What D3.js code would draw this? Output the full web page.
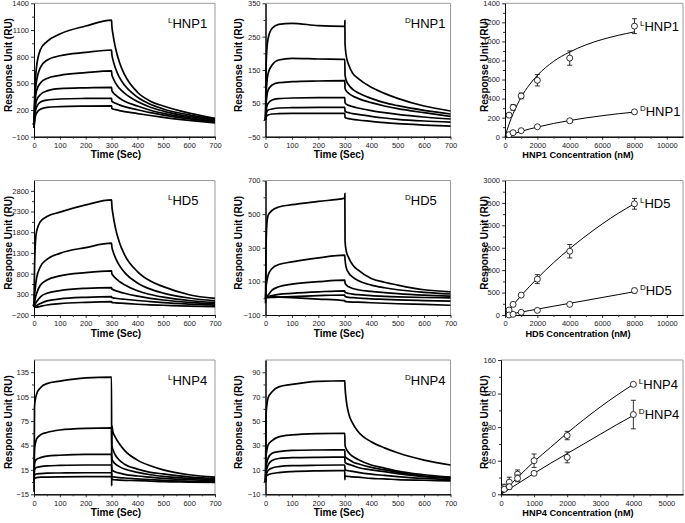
<!DOCTYPE html>
<html><head><meta charset="utf-8">
<script src="https://cdn.jsdelivr.net/npm/d3@7"></script>
<style>body{margin:0;background:#fff}svg{display:block;font-family:Arial,"Liberation Sans",sans-serif}</style>
</head><body><svg id="c" width="685" height="523"></svg>
<script>
// ---------- Sensorgram data (Response Unit vs Time) ----------
const assocT = [0, 2, 5, 10, 25, 50, 100, 200, 300];
const dissocT = [301, 305, 315, 330, 350, 400, 450, 500, 600, 700];

const lhnp1Assoc = [
  [0, 300, 520, 690, 880, 970, 1055, 1145, 1210],
  [0, 220, 400, 530, 680, 760, 810, 848, 875],
  [0, 170, 310, 420, 505, 555, 590, 620, 640],
  [0, 130, 230, 310, 375, 415, 440, 450, 455],
  [0, 100, 175, 235, 290, 312, 324, 330, 332],
  [0, 70, 125, 165, 210, 230, 238, 244, 246]
];
const lhnp1Dissoc = [
  [1150, 1060, 900, 740, 600, 400, 300, 245, 165, 105],
  [830, 770, 670, 570, 480, 345, 265, 212, 145, 95],
  [600, 565, 505, 445, 390, 295, 232, 188, 128, 85],
  [420, 400, 370, 335, 300, 245, 198, 163, 113, 75],
  [300, 290, 275, 258, 238, 203, 170, 143, 100, 65],
  [218, 212, 204, 194, 182, 160, 138, 118, 84, 55]
];
const dhnp1Assoc = [
  [0, 150, 210, 245, 275, 287, 290, 283, 281],
  [0, 70, 110, 140, 165, 180, 185, 183, 182],
  [0, 45, 70, 90, 105, 112, 115, 117, 118],
  [0, 25, 40, 50, 60, 64, 66, 67, 67],
  [0, 15, 25, 30, 33, 36, 37, 38, 38],
  [0, 8, 12, 15, 18, 19, 20, 20, 20]
];
const dhnp1Dissoc = [
  [230, 195, 165, 140, 125, 98, 80, 65, 42, 27],
  [135, 120, 105, 92, 82, 65, 52, 43, 29, 18],
  [95, 88, 80, 72, 65, 52, 42, 34, 22, 11],
  [52, 48, 44, 40, 36, 28, 22, 17, 9, 3],
  [26, 24, 22, 19, 17, 11, 6, 2, -3, -6],
  [8, 6, 4, 2, 0, -4, -8, -11, -15, -18]
];
const lhd5Assoc = [
  [0, 900, 1500, 1820, 2060, 2180, 2285, 2460, 2580],
  [0, 250, 450, 690, 970, 1145, 1290, 1430, 1535],
  [0, 100, 200, 320, 525, 645, 745, 825, 865],
  [0, 40, 70, 120, 240, 325, 390, 445, 462],
  [0, 10, 20, 30, 80, 140, 188, 228, 243],
  [0, -5, -10, -10, 10, 42, 75, 106, 122]
];
const lhd5Dissoc = [
  [2450, 2250, 1900, 1560, 1260, 850, 620, 485, 290, 200],
  [1450, 1350, 1180, 1000, 830, 575, 425, 330, 210, 140],
  [800, 760, 690, 610, 530, 385, 295, 232, 150, 100],
  [430, 415, 390, 360, 325, 255, 203, 163, 107, 70],
  [222, 215, 205, 193, 180, 150, 125, 100, 65, 40],
  [105, 100, 95, 88, 80, 60, 45, 35, 15, 0]
];
const dhd5Assoc = [
  [-30, 300, 435, 493, 522, 542, 556, 576, 595],
  [0, 60, 100, 137, 177, 200, 216, 240, 256],
  [0, 5, 10, 19, 48, 68, 84, 98, 107],
  [0, 3, 5, 9, 15, 23, 29, 38, 44],
  [0, 2, 3, 3, 5, 7, 9, 15, 19],
  [10, 10, 9, 9, 8, 6, 3, -5, -15]
];
const dhd5Dissoc = [
  [340, 285, 240, 198, 168, 117, 95, 78, 50, 38],
  [230, 185, 150, 125, 105, 78, 62, 50, 35, 25],
  [90, 80, 68, 58, 50, 40, 33, 27, 18, 12],
  [35, 32, 28, 24, 21, 15, 11, 8, 4, 2],
  [10, 8, 5, 3, 1, -4, -7, -10, -14, -18],
  [-20, -21, -22, -23, -24, -27, -30, -33, -37, -42]
];
const lhnp4Assoc = [
  [-12, 92, 101, 108, 116, 121, 124, 128, 129],
  [0, 40, 47, 53, 58, 61, 64, 66, 66.5],
  [0, 22, 26, 28, 30, 32, 33, 34, 34],
  [0, 15, 17, 18, 19, 20, 20.5, 21, 21],
  [0, 8.5, 9.5, 10, 10.5, 11, 11.2, 11.5, 11.5],
  [0, 4.5, 5, 5.5, 6, 6.2, 6.4, 6.6, 6.6]
];
const lhnp4Dissoc = [
  [70, 62, 55, 47, 39, 27, 20, 15, 9, 6],
  [45, 40, 33, 27, 22, 16, 12, 10, 6.5, 4.5],
  [28, 26, 22, 19, 16, 12, 9, 7, 4.5, 3],
  [15, 14, 12.5, 11, 9.5, 7.5, 6, 4.5, 3, 1.5],
  [7, 6.5, 6, 5.5, 5, 4, 3, 2, 1, 0.5],
  [3, 3, 2.8, 2.5, 2.2, 1.8, 1.2, 0.5, 0, -0.5]
];
const dhnp4Assoc = [
  [0, 54, 63, 69, 74, 78, 80, 82.5, 83],
  [0, 21, 26, 30.5, 34, 37, 38.6, 39.7, 40],
  [0, 12.7, 16, 19.6, 23.7, 25, 26, 26.3, 26.4],
  [0, 8.6, 11, 14, 17.7, 19.3, 20, 20.3, 20.4],
  [0, 6, 7.5, 9.5, 11.5, 12.7, 13.5, 13.8, 14],
  [0, 4.5, 5.2, 6, 7, 7.8, 8.6, 9.2, 9.4]
];
const dhnp4Dissoc = [
  [78, 68, 56, 48, 41.5, 33, 28, 24, 18, 14],
  [30, 27.5, 24, 21, 18.5, 14, 11.5, 9, 6, 4],
  [21, 20, 18.5, 16.5, 15, 12, 10, 8, 5, 3.5],
  [16, 15.5, 14.5, 13.5, 12, 10, 8.5, 7, 4.5, 3],
  [10, 9.7, 9.3, 8.8, 8, 6.5, 5.5, 4.5, 3, 2],
  [5, 4.8, 4.6, 4.3, 4, 3, 2.6, 2, 1.5, 1]
];
// injection spikes at t = 300: [curve index, value]
const dhnp1Spike = [0, 298];
const dhd5Spike = [0, 622];
const lhnp4Spike = [0, -5];
const dhnp4Spike = [5, 2];

// ---------- Binding (steady-state) data ----------
const conc1 = [250, 500, 1000, 2000, 4000, 8000];
const fitConc1 = [0, 250, 500, 1000, 1500, 2000, 3000, 4000, 5000, 6000, 7000, 8000];
const hnp1L = [226, 307, 428, 592, 825, 1160];
const hnp1LErr = [20, 30, 30, 60, 75, 78];
const hnp1D = [21, 42, 63, 104, 167, 261];
const hnp1DErr = [5, 5, 5, 8, 15, 18];
const hnp1LFit = [0, 132, 240, 415, 543, 644, 790, 889, 964, 1020, 1064, 1100];
const hnp1DFit = [0, 15, 29, 56, 80, 101, 139, 170, 197, 220, 241, 258];

const hd5L = [111, 237, 444, 800, 1422, 2480];
const hd5LErr = [15, 20, 30, 100, 150, 120];
const hd5D = [0, 15, 60, 104, 237, 545];
const hd5DErr = [5, 5, 8, 10, 15, 50];
const hd5LFit = [0, 113, 223, 433, 631, 819, 1167, 1480, 1765, 2029, 2270, 2480];
const hd5DFit = [0, 16, 33, 66, 98, 131, 196, 261, 325, 390, 455, 520];

const conc4 = [100, 250, 500, 1000, 2000, 4000];
const fitConc4 = [0, 500, 1000, 1500, 2000, 2500, 3000, 3500, 4000];
const hnp4L = [8, 14.4, 24, 40, 70, 131];
const hnp4LErr = [4, 6, 5, 8, 5, 1];
const hnp4D = [6, 9, 19, 25, 44, 95];
const hnp4DErr = [2, 3, 4, 2, 6.5, 17];
const hnp4LFit = [0, 20, 39, 56, 73, 89, 104, 118, 131];
const hnp4DFit = [0, 12.5, 25, 37, 48.5, 60, 71.5, 83, 94];

// ---------- axis tick labels ----------
const timeTicks = [0, 100, 200, 300, 400, 500, 600, 700];
const yTicksLHNP1 = [-100, 200, 500, 800, 1100, 1400];
const yTicksDHNP1 = [-50, 50, 150, 250, 350];
const yTicksLHD5 = [-200, 300, 800, 1300, 1800, 2300, 2800];
const yTicksDHD5 = [-100, 100, 300, 500, 700];
const yTicksLHNP4 = [-15, 15, 45, 75, 105, 135];
const yTicksDHNP4 = [-10, 10, 30, 50, 70, 90];
const concTicks = [0, 2000, 4000, 6000, 8000, 10000];
const concTicks4 = [0, 1000, 2000, 3000, 4000, 5000];
const yTicksB1 = [0, 200, 400, 600, 800, 1000, 1200, 1400];
const yTicksB2 = [0, 500, 1000, 1500, 2000, 2500, 3000];
const yTicksB3 = [0, 40, 80, 120, 160];

// ---------- layout ----------
const svg = d3.select('#c');
const colX = [[34, 215], [265.5, 450.5], [505, 683]];
const rowY = [[3.3, 136.7], [180.5, 315], [360, 494.3]];
const xTitleX = [116, 339, 578];
const yTitleX = [8, 238, 484];
const xTitleSize = [10, 10, 9.2];

function midTicks(t) { const m = []; for (let i = 0; i < t.length - 1; i++) m.push((t[i] + t[i + 1]) / 2); return m; }

function drawAxes(xs, ys, xTicks, yTicks, xMinor, yMinor, xTitle, col, row) {
  const [x0, x1] = xs.range(); const [y1, y0] = ys.range();
  const g = svg.append('g');
  g.append('path').attr('d', `M${x0},${y0}H${x1}V${y1}`).attr('fill', 'none').attr('stroke', '#9a9a9a').attr('stroke-width', 1);
  const ax = g.append('g').attr('transform', `translate(0,${y1})`)
    .call(d3.axisBottom(xs).tickValues(xTicks).tickSize(3).tickPadding(3).tickSizeOuter(0).tickFormat(d3.format('d')));
  const axm = g.append('g').attr('transform', `translate(0,${y1})`)
    .call(d3.axisBottom(xs).tickValues(xMinor).tickSize(2).tickFormat('').tickSizeOuter(0));
  const ay = g.append('g').attr('transform', `translate(${x0},0)`)
    .call(d3.axisLeft(ys).tickValues(yTicks).tickSize(3).tickPadding(2).tickSizeOuter(0).tickFormat(d3.format('d')));
  const aym = g.append('g').attr('transform', `translate(${x0},0)`)
    .call(d3.axisLeft(ys).tickValues(yMinor).tickSize(2).tickFormat('').tickSizeOuter(0));
  [ax, axm, ay, aym].forEach(a => {
    a.attr('font-family', null).attr('font-size', null);
    a.select('.domain').attr('stroke', '#000').attr('stroke-width', 1);
    a.selectAll('line').attr('stroke', '#333');
    a.selectAll('text').attr('font-size', 7.5).attr('fill', '#222');
  });
  g.append('text').attr('x', xTitleX[col]).attr('y', y1 + 21.5).attr('text-anchor', 'middle')
    .attr('font-size', xTitleSize[col]).attr('font-weight', 'bold').text(xTitle);
  g.append('text').attr('transform', `translate(${yTitleX[col]},${(y0 + y1) / 2 - 5}) rotate(-90)`)
    .attr('text-anchor', 'middle').attr('dy', '0.35em').attr('font-size', 10).attr('font-weight', 'bold')
    .text('Response Unit (RU)');
}

function label(x, y, sup, main) {
  const t = svg.append('text').attr('x', x).attr('y', y).attr('font-size', 13);
  t.append('tspan').attr('font-size', 8).attr('dy', -5).text(sup);
  t.append('tspan').attr('dy', 5).text(main);
}

const sensorPanels = [
  { col: 0, row: 0, dom: [-100, 1400], yt: yTicksLHNP1, a: lhnp1Assoc, d: lhnp1Dissoc, spike: null, sup: 'L', name: 'HNP1' },
  { col: 1, row: 0, dom: [-50, 350], yt: yTicksDHNP1, a: dhnp1Assoc, d: dhnp1Dissoc, spike: dhnp1Spike, sup: 'D', name: 'HNP1' },
  { col: 0, row: 1, dom: [-200, 3050], yt: yTicksLHD5, a: lhd5Assoc, d: lhd5Dissoc, spike: null, sup: 'L', name: 'HD5' },
  { col: 1, row: 1, dom: [-100, 700], yt: yTicksDHD5, a: dhd5Assoc, d: dhd5Dissoc, spike: dhd5Spike, sup: 'D', name: 'HD5' },
  { col: 0, row: 2, dom: [-15, 150], yt: yTicksLHNP4, a: lhnp4Assoc, d: lhnp4Dissoc, spike: lhnp4Spike, sup: 'L', name: 'HNP4' },
  { col: 1, row: 2, dom: [-10, 100], yt: yTicksDHNP4, a: dhnp4Assoc, d: dhnp4Dissoc, spike: dhnp4Spike, sup: 'D', name: 'HNP4' }
];
const labelDX = [138, 143.5];

sensorPanels.forEach(p => {
  const xs = d3.scaleLinear().domain([0, 700]).range(colX[p.col]);
  const ys = d3.scaleLinear().domain(p.dom).range([rowY[p.row][1], rowY[p.row][0]]);
  drawAxes(xs, ys, timeTicks, p.yt, midTicks(timeTicks), midTicks(p.yt), 'Time (Sec)', p.col, p.row);
  const line = d3.line().x(d => xs(d[0])).y(d => ys(d[1])).curve(d3.curveMonotoneX);
  p.a.forEach((vals, i) => {
    const pts = assocT.map((t, k) => [t, vals[k]]);
    if (p.spike && p.spike[0] === i) pts.push([300.3, p.spike[1]]);
    p.d[i].forEach((v, k) => pts.push([dissocT[k], v]));
    svg.append('path').attr('d', line(pts)).attr('fill', 'none').attr('stroke', '#000').attr('stroke-width', 1.7);
  });
  label(colX[p.col][0] + labelDX[p.col] - 4, rowY[p.row][0] + 24.5, p.sup, p.name);
});

const bindPanels = [
  { row: 0, xr: [505, 683], xdom: [0, 11000], xt: concTicks, ydom: [0, 1400], yt: yTicksB1, c: conc1, fc: fitConc1,
    L: hnp1L, LE: hnp1LErr, D: hnp1D, DE: hnp1DErr, LF: hnp1LFit, DF: hnp1DFit, name: 'HNP1' },
  { row: 1, xr: [505, 683], xdom: [0, 11000], xt: concTicks, ydom: [0, 3000], yt: yTicksB2, c: conc1, fc: fitConc1,
    L: hd5L, LE: hd5LErr, D: hd5D, DE: hd5DErr, LF: hd5LFit, DF: hd5DFit, name: 'HD5' },
  { row: 2, xr: [501, 683], xdom: [0, 5500], xt: concTicks4, ydom: [0, 160], yt: yTicksB3, c: conc4, fc: fitConc4,
    L: hnp4L, LE: hnp4LErr, D: hnp4D, DE: hnp4DErr, LF: hnp4LFit, DF: hnp4DFit, name: 'HNP4' }
];

bindPanels.forEach(p => {
  const xs = d3.scaleLinear().domain(p.xdom).range(p.xr);
  const ys = d3.scaleLinear().domain(p.ydom).range([rowY[p.row][1], rowY[p.row][0]]);
  drawAxes(xs, ys, p.xt, p.yt, midTicks(p.xt), midTicks(p.yt), p.name + ' Concentration (nM)', 2, p.row);
  const line = d3.line().x(d => xs(d[0])).y(d => ys(d[1])).curve(d3.curveMonotoneX);
  [[p.LF, p.L, p.LE, 'L'], [p.DF, p.D, p.DE, 'D']].forEach(([fit, vals, errs, sup]) => {
    svg.append('path').attr('d', line(p.fc.map((c, k) => [c, fit[k]]))).attr('fill', 'none').attr('stroke', '#000').attr('stroke-width', 1);
    const g = svg.append('g');
    p.c.forEach((c, k) => {
      const x = xs(c), yt = ys(vals[k] + errs[k]), yb = ys(vals[k] - errs[k]);
      g.append('line').attr('x1', x).attr('x2', x).attr('y1', yt).attr('y2', yb).attr('stroke', '#000').attr('stroke-width', 0.8);
      [yt, yb].forEach(yy => g.append('line').attr('x1', x - 2.5).attr('x2', x + 2.5).attr('y1', yy).attr('y2', yy).attr('stroke', '#000').attr('stroke-width', 0.8));
    });
    p.c.forEach((c, k) => {
      g.append('circle').attr('cx', xs(c)).attr('cy', ys(vals[k])).attr('r', 3).attr('fill', '#fff').attr('stroke', '#000').attr('stroke-width', 0.8);
    });
    const last = p.c.length - 1;
    label(xs(p.c[last]) + 5.5, ys(vals[last]) + 4.5, sup, p.name);
  });
});
</script></body></html>
